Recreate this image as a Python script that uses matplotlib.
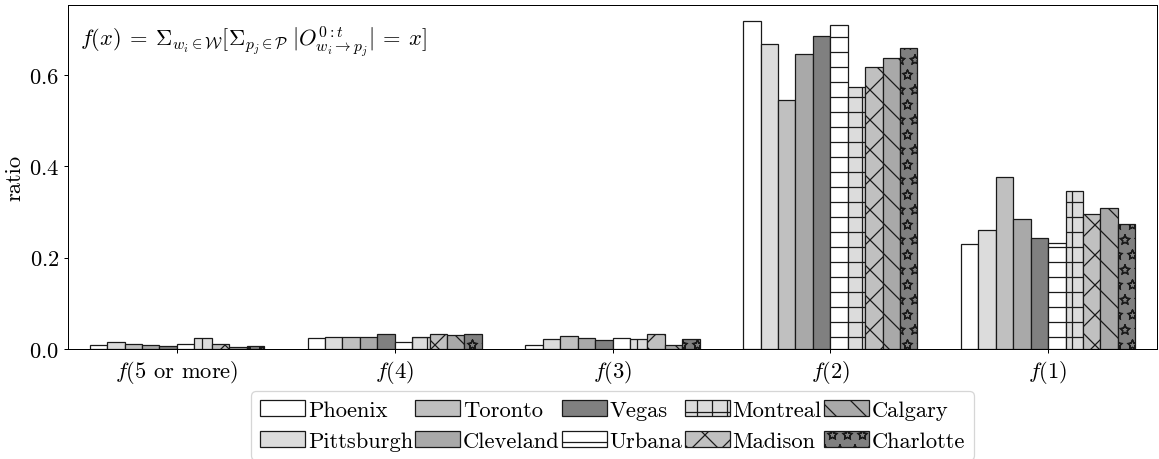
import numpy as np
import matplotlib
matplotlib.use("Agg")
import matplotlib.pyplot as plt
import matplotlib.hatch

# ----------------------------
# DATA
# ----------------------------
cities = ["Phoenix", "Pittsburgh", "Toronto", "Cleveland", "Vegas",
          "Urbana", "Montreal", "Madison", "Calgary", "Charlotte"]

groups = [r"$f$(5 or more)", r"$f$(4)", r"$f$(3)", r"$f$(2)", r"$f$(1)"]

# ratio per city, in the order of groups
phoenix = [0.008, 0.024, 0.0095, 0.717, 0.230]
pittsburgh = [0.0146, 0.0255, 0.022, 0.668, 0.260]
toronto = [0.011, 0.026, 0.029, 0.546, 0.376]
cleveland = [0.009, 0.026, 0.024, 0.645, 0.285]
vegas = [0.0066, 0.0335, 0.020, 0.686, 0.243]
urbana = [0.010, 0.015, 0.024, 0.710, 0.232]
montreal = [0.024, 0.027, 0.022, 0.574, 0.345]
madison = [0.010, 0.033, 0.033, 0.618, 0.296]
calgary = [0.0035, 0.0305, 0.0095, 0.637, 0.308]
charlotte = [0.007, 0.032, 0.022, 0.659, 0.273]

values = [phoenix, pittsburgh, toronto, cleveland, vegas,
          urbana, montreal, madison, calgary, charlotte]

colors = ["white", "#dcdcdc", "#c0c0c0", "#a9a9a9", "#808080",
          "white", "#dcdcdc", "#c0c0c0", "#a9a9a9", "#808080"]
hatches = [None, None, None, None, None, "-", "+", "x", "\\", "*"]

# ----------------------------
# STYLE
# ----------------------------
plt.rcParams["font.family"] = "serif"
plt.rcParams["font.serif"] = ["cmr10"]
plt.rcParams["mathtext.fontset"] = "cm"
plt.rcParams["axes.formatter.use_mathtext"] = True
plt.rcParams["font.size"] = 18
plt.rcParams["hatch.linewidth"] = 1.0

# outlined stars instead of solid ones
matplotlib.hatch.Stars.filled = False

# ----------------------------
# PLOT
# ----------------------------
W, H, DPI = 1159, 460, 90
fig = plt.figure(figsize=(W / DPI, H / DPI), dpi=DPI)
ax = fig.add_axes([68 / W, 1 - 350 / H, (1157 - 68) / W, (350 - 6) / H])

x = np.arange(len(groups))
width = 0.08

for i, city in enumerate(cities):
    offset = (i - (len(cities) - 1) / 2) * width
    ax.bar(
        x + offset,
        values[i],
        width,
        label=city,
        color=colors[i],
        hatch=hatches[i],
        edgecolor="#1a1a1a",
        linewidth=1.0,
    )

ax.set_xticks(x)
ax.set_xticklabels(groups)
ax.set_xlim(-0.5, len(groups) - 0.5)
ax.set_yticks([0.0, 0.2, 0.4, 0.6])
ax.set_ylabel("ratio")

ax.text(
    0.011, 0.945,
    r"$f(x)\:=\:\Sigma_{w_i \in \mathcal{W}}[\Sigma_{p_j \in \mathcal{P}}\;"
    r"|O^{0:t}_{w_i \rightarrow p_j}|\:=\:x]$",
    transform=ax.transAxes,
    ha="left",
    va="top",
    fontsize=18,
)

ax.legend(
    loc="upper center",
    bbox_to_anchor=(612.5 / W, 1 - 392 / H),
    bbox_transform=fig.transFigure,
    ncol=5,
    handlelength=2.0,
    handletextpad=0.12,
    columnspacing=0.1,
    borderpad=0.4,
    borderaxespad=0,
)

plt.savefig("out.png", dpi=DPI)
